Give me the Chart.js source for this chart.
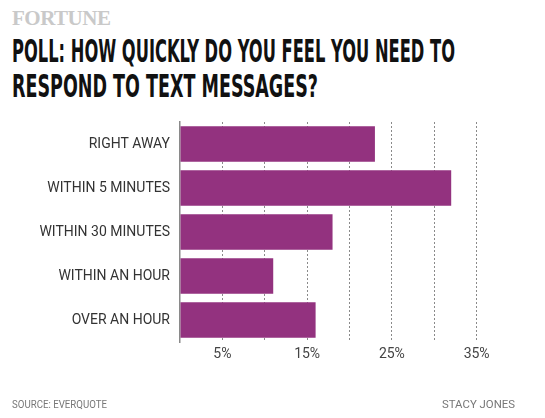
<!DOCTYPE html>
<html>
<head>
<meta charset="utf-8">
<script src="https://cdn.jsdelivr.net/npm/chart.js@4"></script>
<style>
  body { margin: 0; background: #fff; }
  #wrap { position: relative; width: 545px; height: 418px; overflow: hidden; }
  #chart { position: absolute; left: 0; top: 0; }
  .brand { position: absolute; left: 12px; top: 6px; font: bold 21px "Liberation Serif", serif; color: #c9c9c9; letter-spacing: -0.5px; }
  .title { position: absolute; left: 12px; white-space: nowrap; font: 600 30px "Liberation Sans Narrow", "DejaVu Sans Condensed", sans-serif; color: #111; transform-origin: 0 0; }
  .foot { position: absolute; top: 397px; white-space: nowrap; font: 11.5px Roboto, sans-serif; color: #777; transform-origin: 0 0; }
</style>
</head>
<body>
<div id="wrap">
  <div class="brand">FORTUNE</div>
  <div class="title" id="t1" style="top:33px">POLL: HOW QUICKLY DO YOU FEEL YOU NEED TO</div>
  <div class="title" id="t2" style="top:68px">RESPOND TO TEXT MESSAGES?</div>
  <canvas id="chart" width="545" height="418"></canvas>
  <div class="foot" id="f1" style="left:12px">SOURCE: EVERQUOTE</div>
  <div class="foot" id="f2" style="left:442px">STACY JONES</div>
</div>
<script>
const categories = ['RIGHT AWAY', 'WITHIN 5 MINUTES', 'WITHIN 30 MINUTES', 'WITHIN AN HOUR', 'OVER AN HOUR'];
const shares = [23, 32, 18, 11, 16];
const tickLabels = { 5: '5%', 15: '15%', 25: '25%', 35: '35%' };

// squeeze text into the condensed look of the original
function fitText(id, width, height) {
   const el = document.getElementById(id);
   const w = el.getBoundingClientRect().width;
   el.style.transform = 'scale(' + (width / w) + ',' + height + ')';
}
fitText('t1', 443, 1.05);
fitText('t2', 306, 1.05);
fitText('f1', 95, 1);
fitText('f2', 73, 1);

const ctx = document.getElementById('chart').getContext('2d');
new Chart(ctx, {
   type: 'bar',
   data: {
      labels: categories,
      datasets: [{
         data: shares,
         backgroundColor: '#93327f',
         borderWidth: 0,
         barPercentage: 0.9,
         categoryPercentage: 0.9
      }]
   },
   options: {
      indexAxis: 'y',
      responsive: false,
      animation: false,
      layout: { padding: { top: 122, right: 26, left: 0, bottom: 0 } },
      plugins: { legend: { display: false }, tooltip: { enabled: false } },
      scales: {
         x: {
            min: 0,
            max: 40,
            ticks: {
               stepSize: 5,
               color: '#444',
               font: { family: 'Roboto', size: 14 },
               padding: 4,
               maxRotation: 0,
               autoSkip: false,
               callback: v => tickLabels[v] || ''
            },
            grid: {
               color: c => (c.tick.value > 0 && c.tick.value < 40) ? '#8a8a8a' : 'rgba(0,0,0,0)',
               lineWidth: 1,
               drawTicks: false
            },
            border: { display: false, dash: [2, 2] },
            afterFit: s => { s.height = 76; }
         },
         y: {
            ticks: {
               color: '#333',
               font: { family: 'Roboto', size: 14 },
               padding: 10
            },
            grid: { display: false, drawTicks: false },
            border: { display: true, color: '#8a8a8a', width: 1.5 },
            afterFit: s => { s.width = 180; }
         }
      }
   }
});
</script>
</body>
</html>
